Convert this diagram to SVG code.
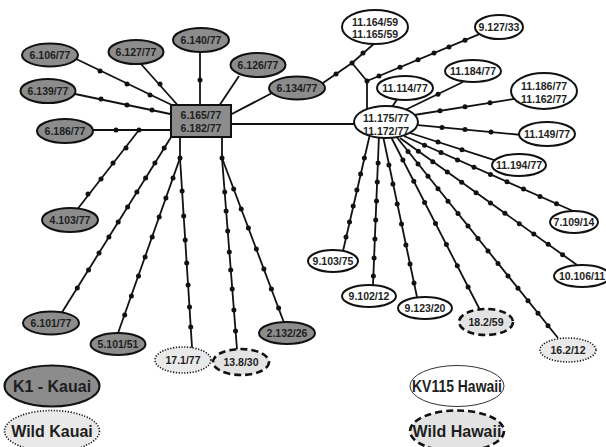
<svg xmlns="http://www.w3.org/2000/svg" width="606" height="447" viewBox="0 0 606 447">
<style>
.e{stroke:#111;stroke-width:1.8;fill:none}
.d{fill:#111}
.k{fill:#8c8c8c;stroke:#111;stroke-width:2}
.h{fill:#fff;stroke:#111;stroke-width:2}
.wk{fill:#e9e9e9;stroke:#111;stroke-width:1.6;stroke-dasharray:1.2 1.6}
.wh{fill:#e3e3e3;stroke:#111;stroke-width:2.6;stroke-dasharray:7 4}
text{font-family:"Liberation Sans",Arial,sans-serif;font-weight:bold;font-size:10.5px;text-anchor:middle;fill:#1e1e1e}
.lg{font-size:16px}
</style>
<rect width="606" height="447" fill="#fff"/>
<g id="connectors">
<g class="e">
<path d="M70 56L176 107"/>
<path d="M68 92.5L175 115"/>
<path d="M141 64L182 110"/>
<path d="M200 52V108"/>
<path d="M239 76L217 109"/>
<path d="M272 93L228 116"/>
<path d="M88 130H175"/>
<path d="M139 130L76 211"/>
<path d="M173 134L61 314"/>
<path d="M180 134V158L117 336"/>
<path d="M180 158L192.2 350"/>
<path d="M222 134V158L237.3 353"/>
<path d="M222 158L286 328"/>
<path d="M228 124H358"/>
<path d="M320 85L352 63L376 42"/>
<path d="M352 63L367 81V110"/>
<path d="M367 81L483 32.7"/>
<path d="M390 110L398 98"/>
<path d="M403 111L463 82"/>
<path d="M411 115.5L516 98.6"/>
<path d="M413 124.7L522 135"/>
<path d="M410 133L496 160.6"/>
<path d="M404 136L573 211"/>
<path d="M400 138L577 265"/>
<path d="M395 135L558 338"/>
<path d="M390 135L480 310"/>
<path d="M383 136L417 297"/>
<path d="M379 135L373 285"/>
<path d="M370 134L343 251"/>
</g>
<g class="d">
<circle cx="100" cy="71" r="2.5"/><circle cx="127" cy="84" r="2.5"/><circle cx="150" cy="95" r="2.5"/>
<circle cx="101" cy="99" r="2.5"/><circle cx="127" cy="105" r="2.5"/><circle cx="152" cy="110" r="2.5"/>
<circle cx="160" cy="84" r="2.5"/>
<circle cx="200" cy="80" r="2.5"/>
<circle cx="116" cy="130" r="2.5"/><circle cx="139" cy="130" r="2.5"/>
<circle cx="126" cy="148" r="2.5"/><circle cx="113" cy="163" r="2.5"/><circle cx="101" cy="179" r="2.5"/><circle cx="88" cy="194" r="2.5"/>
<circle cx="164.2" cy="148" r="2.5"/><circle cx="154.9" cy="163" r="2.5"/><circle cx="145.6" cy="178" r="2.5"/><circle cx="136.9" cy="192" r="2.5"/><circle cx="127.6" cy="207" r="2.5"/><circle cx="118.2" cy="222" r="2.5"/><circle cx="108.9" cy="237" r="2.5"/><circle cx="99" cy="253" r="2.5"/><circle cx="88.5" cy="270" r="2.5"/><circle cx="77.3" cy="288" r="2.5"/>
<circle cx="180" cy="158" r="2.5"/>
<circle cx="173" cy="178" r="2.5"/><circle cx="165.9" cy="198" r="2.5"/><circle cx="159.2" cy="217" r="2.5"/><circle cx="152.2" cy="237" r="2.5"/><circle cx="145.1" cy="257" r="2.5"/><circle cx="138.5" cy="276" r="2.5"/><circle cx="131.4" cy="296" r="2.5"/><circle cx="124.7" cy="315" r="2.5"/>
<circle cx="182.1" cy="191" r="2.5"/><circle cx="183.7" cy="216" r="2.5"/><circle cx="185.2" cy="240" r="2.5"/><circle cx="186.7" cy="263" r="2.5"/><circle cx="188.1" cy="285" r="2.5"/><circle cx="189.5" cy="307" r="2.5"/><circle cx="190.7" cy="327" r="2.5"/>
<circle cx="222" cy="158" r="2.5"/>
<circle cx="224.7" cy="192" r="2.5"/><circle cx="226.1" cy="211" r="2.5"/><circle cx="227.7" cy="231" r="2.5"/><circle cx="229.3" cy="252" r="2.5"/><circle cx="230.7" cy="270" r="2.5"/><circle cx="232.2" cy="289" r="2.5"/><circle cx="233.9" cy="310" r="2.5"/><circle cx="235.5" cy="331" r="2.5"/>
<circle cx="233.7" cy="189" r="2.5"/><circle cx="241.2" cy="209" r="2.5"/><circle cx="248.4" cy="228" r="2.5"/><circle cx="256.3" cy="249" r="2.5"/><circle cx="263.9" cy="269" r="2.5"/><circle cx="271.4" cy="289" r="2.5"/><circle cx="278.6" cy="308" r="2.5"/>
<circle cx="336" cy="74" r="2.5"/><circle cx="352" cy="63" r="2.5"/><circle cx="363" cy="53" r="2.5"/><circle cx="367" cy="81" r="2.5"/>
<circle cx="379" cy="76" r="2.5"/><circle cx="400" cy="67.3" r="2.5"/><circle cx="418" cy="59.8" r="2.5"/><circle cx="434" cy="53.1" r="2.5"/><circle cx="449" cy="46.9" r="2.5"/><circle cx="465" cy="40.2" r="2.5"/>
<circle cx="438" cy="94.3" r="2.5"/>
<circle cx="440" cy="110.8" r="2.5"/><circle cx="465" cy="106.8" r="2.5"/><circle cx="490" cy="102.7" r="2.5"/>
<circle cx="442" cy="127.5" r="2.5"/><circle cx="465" cy="129.6" r="2.5"/><circle cx="491" cy="132" r="2.5"/>
<circle cx="438" cy="142" r="2.5"/><circle cx="462" cy="149.7" r="2.5"/>
<circle cx="424.5" cy="145.3" r="2.5"/><circle cx="441" cy="152.6" r="2.5"/><circle cx="457.5" cy="159.9" r="2.5"/><circle cx="474" cy="167.2" r="2.5"/><circle cx="490.5" cy="174.5" r="2.5"/><circle cx="507" cy="181.8" r="2.5"/><circle cx="523.5" cy="189.1" r="2.5"/><circle cx="540" cy="196.4" r="2.5"/><circle cx="556.5" cy="203.7" r="2.5"/>
<circle cx="418.4" cy="151.3" r="2.5"/><circle cx="432.8" cy="161.7" r="2.5"/><circle cx="447.3" cy="172" r="2.5"/><circle cx="461.7" cy="182.3" r="2.5"/><circle cx="476.1" cy="192.7" r="2.5"/><circle cx="490.5" cy="203" r="2.5"/><circle cx="504.9" cy="213.3" r="2.5"/><circle cx="519.3" cy="223.7" r="2.5"/><circle cx="533.8" cy="234" r="2.5"/><circle cx="548.2" cy="244.3" r="2.5"/><circle cx="562.6" cy="254.7" r="2.5"/>
<circle cx="408" cy="151.4" r="2.5"/><circle cx="418" cy="163.9" r="2.5"/><circle cx="428" cy="176.3" r="2.5"/><circle cx="438" cy="188.8" r="2.5"/><circle cx="448" cy="201.2" r="2.5"/><circle cx="458" cy="213.6" r="2.5"/><circle cx="468" cy="226.1" r="2.5"/><circle cx="478" cy="238.5" r="2.5"/><circle cx="488" cy="251" r="2.5"/><circle cx="498" cy="263.4" r="2.5"/><circle cx="508" cy="275.9" r="2.5"/><circle cx="518" cy="288.3" r="2.5"/><circle cx="528" cy="300.8" r="2.5"/><circle cx="538" cy="313.2" r="2.5"/><circle cx="548" cy="325.7" r="2.5"/>
<circle cx="402.9" cy="160.1" r="2.5"/><circle cx="413.8" cy="181.3" r="2.5"/><circle cx="424.6" cy="202.4" r="2.5"/><circle cx="435.5" cy="223.5" r="2.5"/><circle cx="446.4" cy="244.6" r="2.5"/><circle cx="457.3" cy="265.8" r="2.5"/><circle cx="468.1" cy="286.9" r="2.5"/>
<circle cx="388.9" cy="165" r="2.5"/><circle cx="392.9" cy="184" r="2.5"/><circle cx="397.2" cy="204" r="2.5"/><circle cx="401.5" cy="224" r="2.5"/><circle cx="405.9" cy="245" r="2.5"/><circle cx="410" cy="264" r="2.5"/><circle cx="414" cy="283" r="2.5"/>
<circle cx="378.1" cy="163" r="2.5"/><circle cx="377.3" cy="182" r="2.5"/><circle cx="376.5" cy="201" r="2.5"/><circle cx="375.7" cy="220" r="2.5"/><circle cx="374.9" cy="239" r="2.5"/><circle cx="374.1" cy="258" r="2.5"/><circle cx="373.4" cy="276" r="2.5"/>
<circle cx="364.4" cy="158" r="2.5"/><circle cx="360.6" cy="174" r="2.5"/><circle cx="356.9" cy="190" r="2.5"/><circle cx="353.2" cy="206" r="2.5"/><circle cx="349.5" cy="222" r="2.5"/><circle cx="346" cy="237" r="2.5"/>
</g>
</g>
<g id="hub-left"><rect class="k" x="171" y="105" width="60" height="32"/><text x="201" y="119">6.165/77</text><text x="201" y="131.5">6.182/77</text></g>
<g id="n6106"><ellipse class="k" cx="50" cy="55" rx="28" ry="11.5"/><text x="50" y="59">6.106/77</text></g>
<g id="n6127"><ellipse class="k" cx="136" cy="52" rx="27.5" ry="12"/><text x="136" y="56">6.127/77</text></g>
<g id="n6140"><ellipse class="k" cx="201" cy="40" rx="28" ry="12"/><text x="201" y="44">6.140/77</text></g>
<g id="n6126"><ellipse class="k" cx="258" cy="65" rx="27.5" ry="12"/><text x="258" y="69">6.126/77</text></g>
<g id="n6134"><ellipse class="k" cx="297" cy="88" rx="28" ry="11.5"/><text x="297" y="92">6.134/77</text></g>
<g id="n6139"><ellipse class="k" cx="48" cy="91" rx="27.5" ry="12"/><text x="48" y="95">6.139/77</text></g>
<g id="n6186"><ellipse class="k" cx="65" cy="131" rx="28" ry="12"/><text x="65" y="135">6.186/77</text></g>
<g id="n4103"><ellipse class="k" cx="70" cy="220" rx="28" ry="12"/><text x="70" y="224">4.103/77</text></g>
<g id="n6101"><ellipse class="k" cx="51" cy="323" rx="28" ry="11.5"/><text x="51" y="327">6.101/77</text></g>
<g id="n5101"><ellipse class="k" cx="118" cy="344" rx="27.5" ry="11"/><text x="118" y="348">5.101/51</text></g>
<g id="n2132"><ellipse class="k" cx="287" cy="333" rx="28" ry="11"/><text x="287" y="337">2.132/26</text></g>
<g id="n171"><ellipse class="wk" cx="183" cy="360" rx="28" ry="13"/><text x="183" y="364">17.1/77</text></g>
<g id="n138"><ellipse class="wh" cx="241" cy="362" rx="28" ry="13"/><text x="241" y="366">13.8/30</text></g>
<g id="hub-right"><ellipse class="h" cx="386" cy="122" rx="32" ry="16"/><text x="386" y="122">11.175/77</text><text x="386" y="134.5">11.172/77</text></g>
<g id="n11164"><ellipse class="h" cx="375" cy="27" rx="33" ry="17"/><text x="375" y="26">11.164/59</text><text x="375" y="37.5">11.165/59</text></g>
<g id="n9127"><ellipse class="h" cx="499" cy="27" rx="24" ry="12"/><text x="499" y="31">9.127/33</text></g>
<g id="n11184"><ellipse class="h" cx="473" cy="71" rx="28" ry="11"/><text x="473" y="75">11.184/77</text></g>
<g id="n11114"><ellipse class="h" cx="405" cy="88" rx="28" ry="12"/><text x="405" y="92">11.114/77</text></g>
<g id="n11186"><ellipse class="h" cx="544" cy="91" rx="33" ry="18"/><text x="544" y="90">11.186/77</text><text x="544" y="103">11.162/77</text></g>
<g id="n11149"><ellipse class="h" cx="547" cy="134" rx="28" ry="12"/><text x="547" y="138">11.149/77</text></g>
<g id="n11194"><ellipse class="h" cx="519" cy="165" rx="27" ry="11"/><text x="519" y="169">11.194/77</text></g>
<g id="n7109"><ellipse class="h" cx="574" cy="222" rx="24" ry="11"/><text x="574" y="226">7.109/14</text></g>
<g id="n10106"><ellipse class="h" cx="582" cy="276" rx="28" ry="11"/><text x="582" y="280">10.106/11</text></g>
<g id="n9103"><ellipse class="h" cx="333" cy="261" rx="25" ry="11"/><text x="333" y="265">9.103/75</text></g>
<g id="n9102"><ellipse class="h" cx="369" cy="296" rx="27" ry="11"/><text x="369" y="300">9.102/12</text></g>
<g id="n9123"><ellipse class="h" cx="425" cy="308" rx="27" ry="11"/><text x="425" y="312">9.123/20</text></g>
<g id="n182"><ellipse class="wh" cx="486" cy="322" rx="27" ry="13"/><text x="486" y="326">18.2/59</text></g>
<g id="n162"><ellipse class="wk" cx="568" cy="350" rx="28" ry="12"/><text x="568" y="354">16.2/12</text></g>
<g id="legend-k1"><ellipse class="k" cx="52" cy="386" rx="47.5" ry="20.5"/><text class="lg" x="52" y="392">K1 - Kauai</text></g>
<g id="legend-wild-kauai"><ellipse class="wk" cx="52" cy="431" rx="47.5" ry="20.5"/><text class="lg" x="52" y="437">Wild Kauai</text></g>
<g id="legend-kv115"><ellipse cx="457" cy="386" rx="47" ry="20.5" fill="#fff" stroke="#333" stroke-width="1"/><text class="lg" x="457" y="392" textLength="90" lengthAdjust="spacingAndGlyphs">KV115 Hawaii</text></g>
<g id="legend-wild-hawaii"><ellipse class="wh" cx="457" cy="431" rx="47" ry="20.5"/><text class="lg" x="457" y="437">Wild Hawaii</text></g>
</svg>
